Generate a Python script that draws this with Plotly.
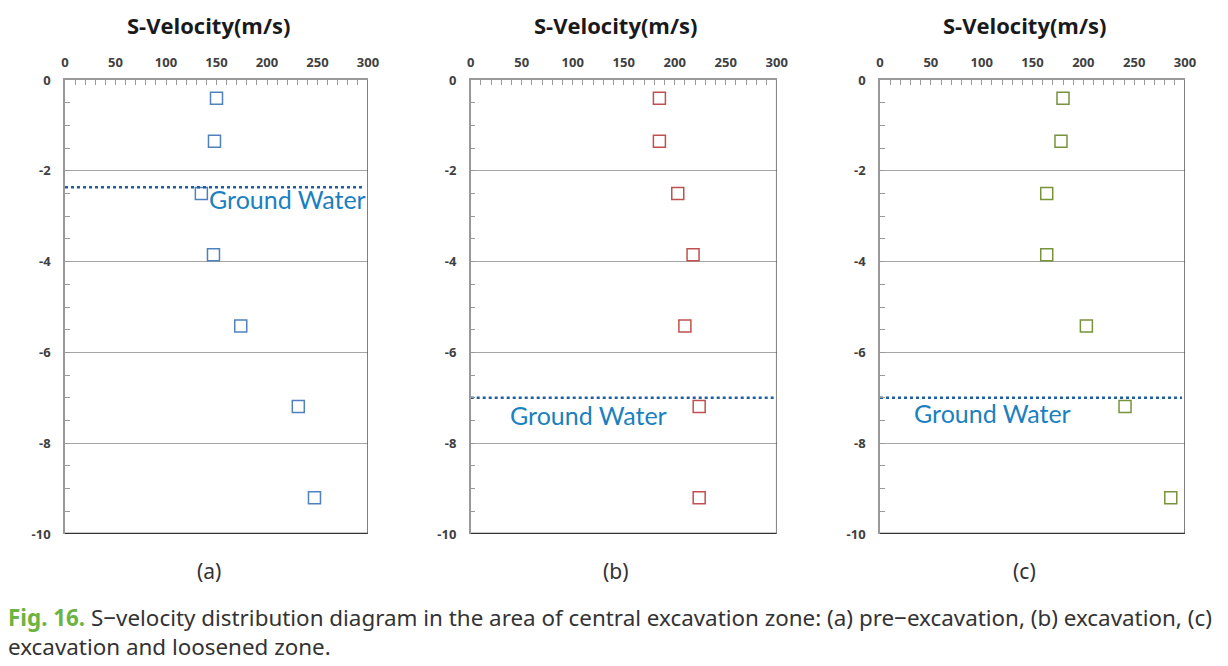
import plotly.graph_objects as go

depth = [-0.4, -1.35, -2.5, -3.85, -5.42, -7.19, -9.2]
vel_a = [150, 148, 135, 147, 174, 231, 247]
vel_b = [185, 185, 203, 218, 210, 224, 224]
vel_c = [180, 178, 164, 164, 203, 241, 286]
gw_depth = [-2.36, -7.0, -7.0]
gw_x = [0, 297]
gw_label_pos = [(220, -2.63), (115, -7.37), (111, -7.33)]
panel_labels = ["(a)", "(b)", "(c)"]
colors = ["#4f81bd", "#c0504d", "#77933c"]
x_ticks = [0, 50, 100, 150, 200, 250, 300]
y_ticks = [0, -2, -4, -6, -8, -10]

domains = [(65/1228, 368/1228), (470.7/1228, 776.7/1228), (880/1228, 1185/1228)]
ydom = (1 - 534/666, 1 - 80/666)

tfont = dict(family="Noto Sans", size=13, color="#404040", weight="bold")

fig = go.Figure()
series = [vel_a, vel_b, vel_c]
for i in range(3):
    xa = "x" if i == 0 else f"x{i+1}"
    ya = "y" if i == 0 else f"y{i+1}"
    fig.add_trace(go.Scatter(x=series[i], y=depth, mode="markers", xaxis=xa, yaxis=ya,
                             marker=dict(symbol="square-open", size=12, color=colors[i],
                                         line=dict(width=1.5, color=colors[i])),
                             showlegend=False))
    fig.add_trace(go.Scatter(x=gw_x, y=[gw_depth[i]] * 2, mode="lines", xaxis=xa, yaxis=ya,
                             line=dict(color="#1f5f9f", width=2.5, dash="dot"),
                             showlegend=False))
    sfx = "" if i == 0 else str(i + 1)
    fig.update_layout(**{
        f"xaxis{sfx}": dict(domain=list(domains[i]), range=[0, 300], side="top",
                            anchor=ya, tickvals=x_ticks, ticktext=[str(v) for v in x_ticks],
                            ticks="inside", ticklen=5, automargin=False,
                            tickcolor="#999", showline=True, linecolor="#999", linewidth=1.5,
                            showgrid=False, zeroline=False, ticklabelstandoff=6,
                            minor=dict(dtick=10, ticks="inside", ticklen=5, tickcolor="#999"),
                            tickfont=tfont),
        f"yaxis{sfx}": dict(domain=list(ydom), range=[-10, 0], anchor=xa, automargin=False,
                            tickvals=y_ticks, ticktext=[str(v) for v in y_ticks],
                            ticks="inside", ticklen=5, tickcolor="#999",
                            showline=True, linecolor="#999", linewidth=1.5,
                            showgrid=True, gridcolor="#a6a6a6", gridwidth=1, zeroline=False,
                            ticklabelstandoff=10,
                            minor=dict(dtick=0.5, ticks="inside", ticklen=5, tickcolor="#999"),
                            tickfont=tfont),
    })
    fig.add_shape(type="line", xref=xa, yref=ya, x0=0, x1=300, y0=-10, y1=-10,
                  line=dict(color="#333", width=2.5))
    fig.add_shape(type="line", xref=xa, yref=ya, x0=300, x1=300, y0=0, y1=-10,
                  line=dict(color="#555", width=1.5))
    fig.add_annotation(x=gw_label_pos[i][0], y=gw_label_pos[i][1], xref=xa, yref=ya,
                       xanchor="center", yanchor="middle",
                       text="Ground Water", showarrow=False,
                       font=dict(family="Lato", size=25, color="#1b7fc0"))
    cx = (domains[i][0] + domains[i][1]) / 2 - 8/1228
    fig.add_annotation(x=cx, y=1 - 25/666, xref="paper", yref="paper", text="S-Velocity(m/s)",
                       xanchor="center", yanchor="middle",
                       showarrow=False, font=dict(family="Open Sans", size=22, color="#1a1a1a", weight="bold"))
    fig.add_annotation(x=cx, y=1 - 571/666, xref="paper", yref="paper", text=panel_labels[i],
                       xanchor="center", yanchor="middle",
                       showarrow=False, font=dict(family="Noto Sans", size=21, color="#333"))

cap_font = dict(family="Noto Sans", size=22.4, color="#333")
fig.add_annotation(x=6/1228, y=1 - 632/666, xref="paper", yref="paper", xanchor="left",
                   yanchor="middle", align="left", showarrow=False,
                   text="<b><span style='color:#6db33f'>Fig. 16.</span></b> S−velocity distribution diagram in the area of central excavation zone: (a) pre−excavation, (b) excavation, (c)"
                        "<br>excavation and loosened zone.",
                   font=cap_font)

fig.update_layout(width=1228, height=666, margin=dict(l=0, r=0, t=0, b=0),
                  paper_bgcolor="white", plot_bgcolor="white")
fig.write_html("out.html", config={"displayModeBar": False},
               post_script="document.body.style.margin='0';document.body.style.padding='0';")
